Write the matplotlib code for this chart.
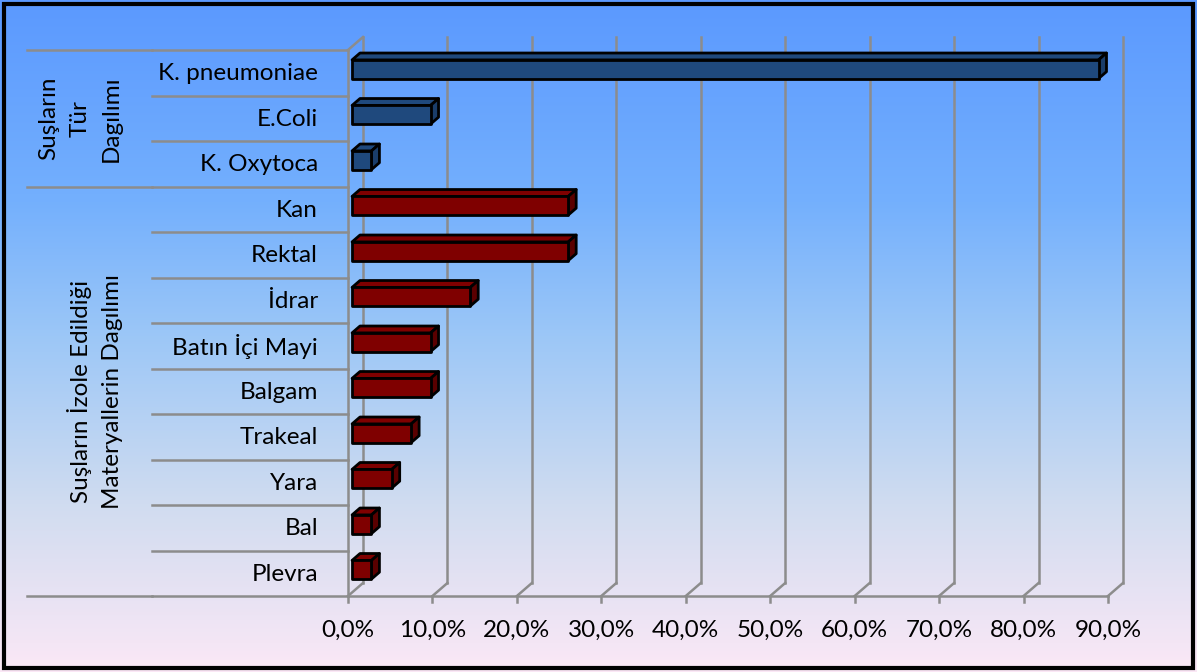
import numpy as np
import matplotlib.pyplot as plt
from matplotlib.patches import Polygon, Rectangle
from matplotlib.colors import LinearSegmentedColormap

# Datos
categorias = ['K. pneumoniae', 'E.Coli', 'K. Oxytoca',
              'Kan', 'Rektal', 'İdrar', 'Batın İçi Mayi', 'Balgam',
              'Trakeal', 'Yara', 'Bal', 'Plevra']
valores = [88.4, 9.3, 2.3,
           25.6, 25.6, 14.0, 9.3, 9.3, 7.0, 4.7, 2.3, 2.3]
grupo = [0, 0, 0, 1, 1, 1, 1, 1, 1, 1, 1, 1]
grupos = ['Suşların\nTür\nDagılımı',
          'Suşların İzole Edildiği\nMateryallerin Dagılımı']
ticks = [0, 10, 20, 30, 40, 50, 60, 70, 80, 90]
tick_labels = ['0,0%', '10,0%', '20,0%', '30,0%', '40,0%', '50,0%',
               '60,0%', '70,0%', '80,0%', '90,0%']

plt.rcParams['font.family'] = ['Lato', 'DejaVu Sans']

W, H = 1197, 672
fig = plt.figure(figsize=(W / 100, H / 100), dpi=100)

# Fondo con degradado
bg = fig.add_axes([0, 0, 1, 1], zorder=-10)
cmap = LinearSegmentedColormap.from_list('bg', [
    (0.0, '#5b99ff'), (0.3, '#74b0fd'), (0.5, '#9cc7f7'),
    (0.75, '#d0dcf0'), (1.0, '#fbe8f6')])
bg.imshow(np.linspace(0, 1, 256)[:, None], aspect='auto', cmap=cmap,
          extent=[0, 1, 0, 1], origin='upper')
bg.add_patch(Rectangle((4 / W, 4 / H), 1 - 8 / W, 1 - 8 / H, fill=False,
                       edgecolor='black', linewidth=3, transform=bg.transAxes))
bg.set_axis_off()

# Ejes (pixel layout)
x0, x1 = 348, 1108
y_top, y_bot = 50, 596
ax = fig.add_axes([x0 / W, (H - y_bot) / H, (x1 - x0) / W, (y_bot - y_top) / H])
n = len(categorias)
ax.set_xlim(0, 90)
ax.set_ylim(n, 0)
ax.set_axis_off()

# profundidad 3D en unidades de datos
px_x = 90 / (x1 - x0)
px_y = n / (y_bot - y_top)
DX, DY = 15 * px_x, -13 * px_y

grid_c = '#8c8c8c'
lw_g = 1.8
# lineas de fondo
for t in ticks:
    ax.plot([t + DX, t + DX], [DY, n + DY], color=grid_c, lw=lw_g, zorder=1, clip_on=False)
    ax.plot([t, t + DX], [n, n + DY], color=grid_c, lw=lw_g, zorder=1, clip_on=False)
    ax.plot([t, t], [n, n + 6 * px_y], color=grid_c, lw=lw_g, zorder=1, clip_on=False)
ax.plot([0, 90], [n, n], color=grid_c, lw=lw_g, zorder=1, clip_on=False)
ax.plot([0, 0], [0, n], color=grid_c, lw=lw_g, zorder=1, clip_on=False)
ax.plot([0, DX], [0, DY], color=grid_c, lw=lw_g, zorder=1, clip_on=False)

# separadores de categorias y grupos a la izquierda
xc = (152 - x0) * px_x
xg = (27 - x0) * px_x
for b in range(n + 1):
    ax.plot([xc, 0], [b, b], color=grid_c, lw=lw_g, zorder=1, clip_on=False)
for b in [0, 3, n]:
    ax.plot([xg, xc], [b, b], color=grid_c, lw=lw_g, zorder=1, clip_on=False)

# barras 3D
f0, f1 = 0.27, 0.8
hh = 0.205
colores = [('#1f497d', '#1a3d6a'), ('#7f0000', '#5a0000')]
for i, (v, g) in enumerate(zip(valores, grupo)):
    yc = i + 0.5
    front, side = colores[g]
    ax0, ay0 = f0 * DX, f0 * DY
    bx, by = (f1 - f0) * DX, (f1 - f0) * DY
    top, bot = yc - hh + ay0, yc + hh + ay0
    fl, fr = ax0, v + ax0
    kw = dict(edgecolor='black', linewidth=2, joinstyle='round', zorder=3, clip_on=False)
    ax.add_patch(Polygon([[fl, top], [fr, top], [fr + bx, top + by], [fl + bx, top + by]],
                         facecolor=front, **kw))
    ax.add_patch(Polygon([[fr, top], [fr + bx, top + by], [fr + bx, bot + by], [fr, bot]],
                         facecolor=side, **kw))
    ax.add_patch(Polygon([[fl, top], [fr, top], [fr, bot], [fl, bot]],
                         facecolor=front, **kw))
    ax.text(xc + (318 - 152) * px_x, yc + 0.02, categorias[i], ha='right', va='center',
            fontsize=17.5, color='black', clip_on=False)

for t, lab in zip(ticks, tick_labels):
    ax.text(t, n + 34 * px_y, lab, ha='center', va='center', fontsize=17.5, clip_on=False)

ax.text((80 - x0) * px_x, 1.5, grupos[0], rotation=90, ha='center', va='center',
        fontsize=17.5, linespacing=1.6, multialignment='center', clip_on=False)
ax.text((95 - x0) * px_x, 7.5, grupos[1], rotation=90, ha='center', va='center',
        fontsize=17.5, linespacing=1.6, multialignment='center', clip_on=False)

plt.savefig('out.png', dpi=100)
plt.close()
